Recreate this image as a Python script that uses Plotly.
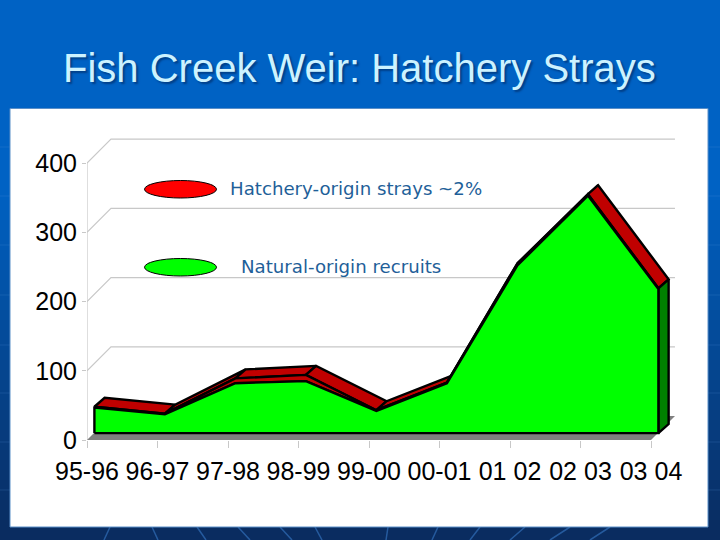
import plotly.graph_objects as go

categories = ["95-96", "96-97", "97-98", "98-99", "99-00", "00-01", "01 02", "02 03", "03 04"]
natural = [37, 27, 72, 75, 32, 72, 242, 343, 208]
hatchery = [1, 1, 7, 9, 1, 1, 3, 2, 1]
y_ticks = [0, 100, 200, 300, 400]
title = "Fish Creek Weir: Hatchery Strays"
legend_labels = ["Hatchery-origin strays ~2%", "Natural-origin recruits"]

# 3-D look: depth expressed in axis units
WALL_X, WALL_Y = 0.34, 34.6
PLANE_X, PLANE_Y = 0.105, 10.0      # front plane of the area series
TOP_X, TOP_Y = 0.145, 13.0          # depth of the extruded area
n = len(categories)
idx = list(range(n))
total = [a + b for a, b in zip(natural, hatchery)]

def poly(xs, ys, fill, lw=2.4, lc="black"):
    return go.Scatter(x=xs, y=ys, mode="lines", fill="toself", fillcolor=fill,
                      line=dict(color=lc, width=lw), hoverinfo="skip", showlegend=False)

def gx(i):
    return i + PLANE_X

def gy(v):
    return v + PLANE_Y

fig = go.Figure()

# walls
grid = "#c8c8c8"
for v in y_ticks[1:]:
    fig.add_trace(go.Scatter(x=[0, WALL_X, n - 1 + WALL_X], y=[v, v + WALL_Y, v + WALL_Y], mode="lines",
                             line=dict(color=grid, width=1.2), hoverinfo="skip", showlegend=False))
fig.add_trace(go.Scatter(x=[0, 0], y=[0, y_ticks[-1]], mode="lines", line=dict(color=grid, width=1.2),
                         hoverinfo="skip", showlegend=False))
# floor
fig.add_trace(poly([0, n - 1, n - 1 + WALL_X, WALL_X, 0], [0, 0, WALL_Y, WALL_Y, 0], "#808080", 0, "#808080"))

# extruded top surface, far to near
for i in range(n - 1):
    xs = [gx(i), gx(i + 1), gx(i + 1) + TOP_X, gx(i) + TOP_X, gx(i)]
    ys = [gy(total[i]), gy(total[i + 1]), gy(total[i + 1]) + TOP_Y, gy(total[i]) + TOP_Y, gy(total[i])]
    fig.add_trace(poly(xs, ys, "#c00000"))

# right side face
fig.add_trace(poly([gx(n - 1), gx(n - 1) + TOP_X, gx(n - 1) + TOP_X, gx(n - 1), gx(n - 1)],
                   [gy(0), gy(0) + TOP_Y, gy(total[-1]) + TOP_Y, gy(total[-1]), gy(0)], "#008000"))

# hatchery front
xs = [gx(i) for i in idx] + [gx(i) for i in idx[::-1]] + [gx(0)]
ys = [gy(v) for v in total] + [gy(v) for v in natural[::-1]] + [gy(total[0])]
fig.add_trace(poly(xs, ys, "#c00000"))

# natural front
xs = [gx(0)] + [gx(i) for i in idx] + [gx(n - 1), gx(0)]
ys = [gy(0)] + [gy(v) for v in natural] + [gy(0), gy(0)]
fig.add_trace(poly(xs, ys, "#00ff00"))

W, H = 720, 540
L, R, T, B = 87, 44, 130, 100
PW, PH = W - L - R, H - T - B

def px(x):
    return (x - L) / PW

def py(y):
    return 1 - (y - T) / PH

# page background
shapes = []
steps = 54
for k in range(steps):
    t = k / (steps - 1)
    top = (0, 98, 196)
    bot = (10, 44, 96)
    f = min(1, max(0, (t - 0.35) / 0.65))
    c = tuple(int(a + (b - a) * f) for a, b in zip(top, bot))
    shapes.append(dict(type="rect", xref="paper", yref="paper", layer="below",
                       x0=px(0), x1=px(W), y0=py(H * (k + 1) / steps), y1=py(H * k / steps),
                       line=dict(width=0), fillcolor="rgb(%d,%d,%d)" % c))

# faint horizontal bands behind the panel edges
for y in [147, 196, 245, 295, 345, 393, 442, 490]:
    shapes.append(dict(type="line", xref="paper", yref="paper", layer="below", x0=px(0), x1=px(W),
                       y0=py(y), y1=py(y), line=dict(color="rgba(90,150,220,0.2)", width=1)))

# streaks at the bottom edge
for x0, x1 in [(110, 104), (152, 158), (197, 206), (238, 250), (280, 292), (315, 322),
               (388, 386), (438, 432), (480, 470), (525, 510), (570, 550), (610, 590)]:
    shapes.append(dict(type="line", xref="paper", yref="paper", layer="below", x0=px(x1), x1=px(x0),
                       y0=py(540), y1=py(527), line=dict(color="rgba(60,130,210,0.55)", width=1.5)))
# white panel
shapes.append(dict(type="rect", xref="paper", yref="paper", layer="below", x0=px(10), x1=px(708),
                   y0=py(527), y1=py(108.5), line=dict(color="#5b8fc8", width=1), fillcolor="white"))
# legend ovals
shapes.append(dict(type="circle", xref="paper", yref="paper", x0=px(144.5), x1=px(216.5), y0=py(198), y1=py(180.5),
                   line=dict(color="black", width=1), fillcolor="#ff0000"))
shapes.append(dict(type="circle", xref="paper", yref="paper", x0=px(144.5), x1=px(216.5), y0=py(276), y1=py(258.5),
                   line=dict(color="black", width=1), fillcolor="#00ff00"))

def note(text, x, y, size, color, family, anchor="left", shadow=None):
    font = dict(size=size, color=color, family=family)
    if shadow:
        font["shadow"] = shadow
    return dict(text=text, x=px(x), y=py(y), xref="paper", yref="paper", showarrow=False,
                xanchor=anchor, yanchor="middle", font=font, align="left")

annotations = [
    note(legend_labels[0], 227.5, 188, 15.3 * 252 / 212, "#1f5f99", "DejaVu Sans"),
    note(legend_labels[1], 239, 266, 15.3 * 252 / 212, "#1f5f99", "DejaVu Sans"),
    note(title, 359.5, 68, 40, "#ccf2ff", "Liberation Sans", "center", "2px 2px 2px #003f88"),
]

tick_font = dict(family="Liberation Sans", size=25, color="black")
fig.update_layout(
    width=W, height=H, autosize=False,
    margin=dict(l=L, r=R, t=T, b=B, pad=0),
    paper_bgcolor="#0b3a78", plot_bgcolor="rgba(0,0,0,0)",
    showlegend=False, shapes=shapes, annotations=annotations,
    xaxis=dict(range=[0, PW / 70.5], tickmode="array", tickvals=idx, ticktext=categories,
               showgrid=False, zeroline=False, showline=False, ticks="outside", ticklen=7,
               ticklabelstandoff=2, tickcolor=grid, tickwidth=1.2, tickfont=tick_font),
    yaxis=dict(range=[0, PH / 0.6925], tickmode="array", tickvals=y_ticks,
               showgrid=False, zeroline=False, showline=False, ticks="outside", ticklen=4,
               tickcolor=grid, tickwidth=1.2, tickfont=tick_font),
)
fig.write_html("out.html", config={"displayModeBar": False},
               post_script="document.body.style.margin='0';document.body.style.overflow='hidden';")
